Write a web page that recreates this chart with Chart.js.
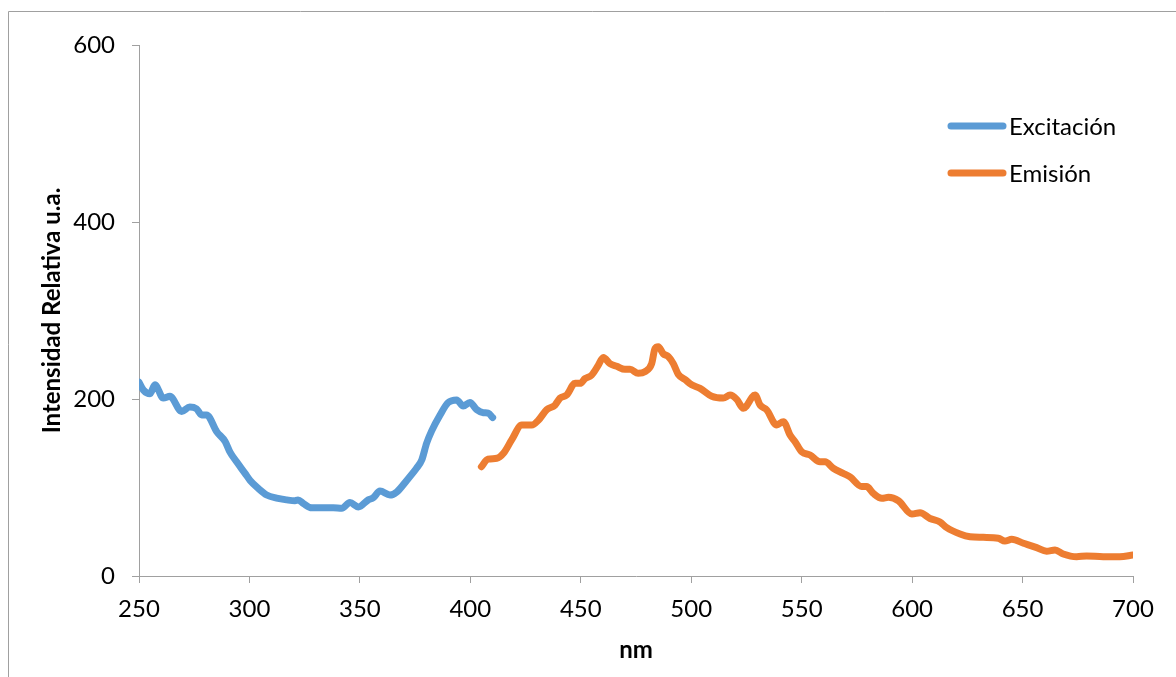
<!DOCTYPE html>
<html>
<head>
<meta charset="utf-8">
<script src="https://cdn.jsdelivr.net/npm/chart.js@4.4.0/dist/chart.umd.min.js"></script>
<style>
  html, body { margin: 0; padding: 0; background: #fff; }
  canvas { display: block; }
</style>
</head>
<body>
<canvas id="chart" width="1176" height="677"></canvas>
<script>
// Excitation spectrum (nm, relative intensity)
const excitacionNm = [250, 252, 255, 257.2, 261, 264, 269.3, 273, 276, 278.4, 280.6, 285.2, 289, 291.2, 294.2, 298, 300.3, 304, 307.8, 312.3, 316.9, 320.6, 322, 324.4, 328.2, 332, 338, 341.8, 345.5, 349.3, 353.8, 356.1, 359.1, 363.6, 366.7, 371.2, 375.7, 378, 380.2, 382.5, 386.3, 390, 393.8, 396.8, 399.8, 402.9, 405.9, 408.1, 410.1];
const excitacionVal = [219, 210, 206, 216, 201, 203, 186, 191, 189, 182, 182, 163, 152, 140, 129, 116, 108, 99, 91.5, 88, 86, 85, 86, 82, 77, 77, 77, 76.5, 83, 78, 86, 88.5, 96, 91.5, 95, 108, 122, 131, 150, 164, 182, 196, 199, 192, 196, 188, 184.5, 184, 179];

// Emission spectrum (nm, relative intensity)
const emisionNm = [405, 408, 412, 415, 418.7, 423.3, 427.8, 430.8, 434.6, 438.3, 440.6, 443.6, 447.4, 449.7, 451.9, 454.9, 457.9, 460.2, 463.2, 466.3, 470, 472.3, 476, 479.1, 482.1, 483.6, 485.1, 487.4, 489.6, 491.9, 494.1, 497.2, 500.2, 504, 509.3, 514.5, 517.6, 520.6, 523.6, 528.9, 531.2, 534.2, 538.7, 541.7, 544.8, 547, 550, 553.8, 558.3, 560.6, 564.3, 568.8, 571.9, 577.2, 579.4, 582.4, 586.3, 589.3, 593.8, 599.9, 603.6, 608.1, 612.6, 615.7, 621.7, 626.2, 632.2, 639, 642, 645.1, 650.4, 656.4, 660.9, 664.7, 668.4, 674.5, 679, 686.5, 694, 700];
const emisionVal = [123.5, 132, 133, 138.6, 153.7, 170.6, 170.6, 176, 188, 193, 201, 204.5, 217.7, 217.7, 223, 227, 238, 247, 240, 237, 233.5, 233.5, 229, 231, 240, 257, 259, 251, 248, 240, 228, 222, 216, 212, 203, 201, 204.5, 199.6, 189.5, 204.5, 193, 187.6, 170.6, 174.4, 159, 151.8, 140.5, 136.7, 129, 129, 121.7, 116, 112, 101, 101, 93.4, 87.8, 88.9, 85, 70, 71.5, 65, 61, 54.6, 47.5, 44.4, 43.7, 42.6, 39.5, 41.4, 37, 32, 28, 29.4, 24.9, 21.8, 22.6, 21.8, 21.8, 23.7];

// Axis settings
const xMin = 250, xMax = 700, xStep = 50;
const yMin = 0, yMax = 600, yStep = 200;
const seriesNames = ['Excitación', 'Emisión'];
const xTitle = 'nm';
const yTitle = 'Intensidad Relativa u.a.';

const FONT = 'Lato, "Noto Sans", sans-serif';
const AXIS_GRAY = '#a0a0a0';
const BLUE = '#5b9bd5';
const ORANGE = '#ed7d31';

const toPoints = (xs, ys) => xs.map((x, i) => ({ x, y: ys[i] }));

// Outer frame of the chart object
const framePlugin = {
  id: 'frame',
  beforeDraw(chart) {
    const ctx = chart.ctx;
    ctx.save();
    ctx.strokeStyle = AXIS_GRAY;
    ctx.lineWidth = 1;
    ctx.beginPath();
    ctx.moveTo(8.5, chart.height);
    ctx.lineTo(8.5, 11.5);
    ctx.lineTo(chart.width, 11.5);
    ctx.stroke();
    ctx.restore();
  }
};

// Legend drawn inside the plot area, top right
const insideLegend = {
  id: 'insideLegend',
  afterDraw(chart) {
    const ctx = chart.ctx;
    const x0 = 948, x1 = 1006, textX = 1009;
    const rows = [126, 173];
    ctx.save();
    ctx.font = '24px ' + FONT;
    ctx.textBaseline = 'middle';
    ctx.textAlign = 'left';
    chart.data.datasets.forEach((ds, i) => {
      const y = rows[i];
      ctx.strokeStyle = ds.borderColor;
      ctx.lineWidth = ds.borderWidth;
      ctx.lineCap = 'round';
      ctx.beginPath();
      ctx.moveTo(x0 + 3, y);
      ctx.lineTo(x1 - 3, y);
      ctx.stroke();
      ctx.fillStyle = '#000';
      ctx.fillText(ds.label, textX, y + 1);
    });
    ctx.restore();
  }
};

new Chart(document.getElementById('chart'), {
  type: 'line',
  data: {
    datasets: [
      {
        label: seriesNames[0],
        data: toPoints(excitacionNm, excitacionVal),
        borderColor: BLUE,
        backgroundColor: BLUE,
        borderWidth: 7,
        pointRadius: 0,
        cubicInterpolationMode: 'monotone',
        borderCapStyle: 'round',
        borderJoinStyle: 'round',
        fill: false
      },
      {
        label: seriesNames[1],
        data: toPoints(emisionNm, emisionVal),
        borderColor: ORANGE,
        backgroundColor: ORANGE,
        borderWidth: 7,
        pointRadius: 0,
        cubicInterpolationMode: 'monotone',
        borderCapStyle: 'round',
        borderJoinStyle: 'round',
        fill: false
      }
    ]
  },
  options: {
    responsive: false,
    animation: false,
    layout: { padding: { left: 0, top: 45, right: 43, bottom: 0 } },
    plugins: {
      legend: { display: false },
      tooltip: { enabled: false }
    },
    scales: {
      x: {
        type: 'linear',
        min: xMin,
        max: xMax,
        afterFit(scale) { scale.height = 101; },
        ticks: {
          stepSize: xStep,
          color: '#000',
          font: { family: FONT, size: 24 },
          padding: 12,
          maxRotation: 0
        },
        grid: {
          drawOnChartArea: false,
          drawTicks: true,
          tickLength: 7,
          color: AXIS_GRAY,
          lineWidth: 1
        },
        border: { display: true, color: AXIS_GRAY, width: 1 },
        title: {
          display: true,
          text: xTitle,
          color: '#000',
          font: { family: FONT, size: 24, weight: 'bold' },
          padding: { top: 0, bottom: 12 }
        }
      },
      y: {
        min: yMin,
        max: yMax,
        afterFit(scale) { scale.width = 139; },
        ticks: {
          stepSize: yStep,
          color: '#000',
          font: { family: FONT, size: 24 },
          padding: 17
        },
        grid: {
          drawOnChartArea: false,
          drawTicks: true,
          tickLength: 7,
          color: AXIS_GRAY,
          lineWidth: 1
        },
        border: { display: true, color: AXIS_GRAY, width: 1 },
        title: {
          display: true,
          text: yTitle,
          color: '#000',
          font: { family: FONT, size: 24, weight: 'bold' },
          padding: { top: 38, bottom: 0 }
        }
      }
    }
  },
  plugins: [framePlugin, insideLegend]
});
</script>
</body>
</html>
